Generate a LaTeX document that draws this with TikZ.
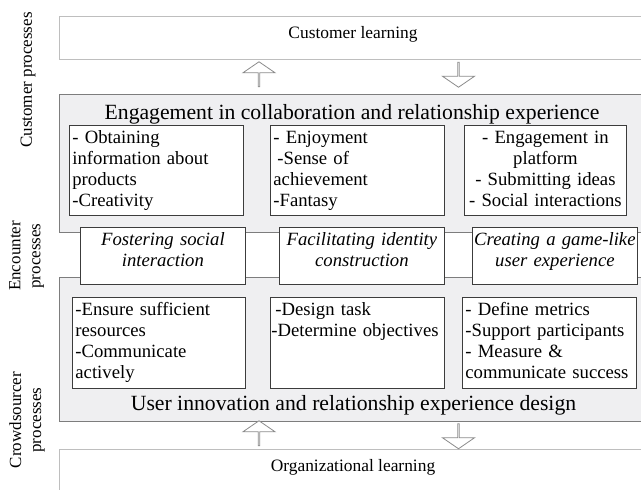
\documentclass[tikz,border=0pt]{standalone}
\usepackage{fontspec}
\setmainfont{Liberation Serif}
\usetikzlibrary{shapes.arrows}
\definecolor{frameGrey}{RGB}{60,60,60}
\definecolor{bandGrey}{RGB}{125,125,125}
\definecolor{bandFill}{RGB}{239,239,241}
\definecolor{learnGrey}{RGB}{190,190,190}
\definecolor{arrowGrey}{RGB}{140,140,140}

\tikzset{
  learnbox/.style={draw=learnGrey,line width=0.9pt,fill=white,anchor=north west,minimum width=590pt,inner sep=0pt},
  bandbox/.style={draw=bandGrey,line width=0.9pt,fill=bandFill,anchor=north west,minimum width=590pt,inner sep=0pt},
  itembox/.style={draw=frameGrey,line width=0.8pt,fill=white,anchor=north west,inner xsep=3pt,inner ysep=3pt,text height=15pt,align=left,font=\fontsize{18.7}{21}\selectfont},
  rolebox/.style={itembox,align=center,inner xsep=0.5pt,text width=164pt,text depth=36pt,font=\itshape\fontsize{18.7}{21}\selectfont},
  flowarrow/.style={single arrow,draw=arrowGrey,fill=white,line width=0.8pt,minimum height=25pt,minimum width=32pt,inner xsep=0pt,inner ysep=7.5pt,single arrow head extend=8.5pt,single arrow tip angle=111},
  sidelabel/.style={rotate=90,align=center,font=\fontsize{17}{20}\selectfont},
  learntext/.style={anchor=base,font=\fontsize{17.4}{19}\selectfont},
  bandtitle/.style={anchor=base,font=\fontsize{21.7}{24}\selectfont}
}

\begin{document}
\begin{tikzpicture}[x=1pt,y=-1pt]
\clip (0,0) rectangle (641,490);
\fill[white] (0,0) rectangle (641,490);

% process levels on the left
\node[sidelabel] (custproc) at (28,80) {Customer processes};
\node[sidelabel] (encproc) at (26.5,256) {Encounter\\processes};
\node[sidelabel] (crowdproc) at (27,420) {Crowdsourcer\\processes};

% learning layers
\node[learnbox,minimum height=43pt] (custlearn) at (59,16) {};
\node[learntext] (custlearntxt) at (353,38.5) {Customer learning};
\node[learnbox,minimum height=50pt] (orglearn) at (59,449) {};
\node[learntext] (orglearntxt) at (353,471) {Organizational learning};

% grey bands
\node[bandbox,minimum height=138pt] (engage) at (59,94) {};
\node[bandbox,minimum height=144pt] (design) at (59,277) {};
\node[bandtitle] (engagetitle) at (352,119) {Engagement in collaboration and relationship experience};
\node[bandtitle] (designtitle) at (353.5,410) {User innovation and relationship experience design};

% customer side
\node[itembox,text width=168pt,text depth=69pt] (cust1) at (69,125) {- Obtaining\\information about\\products\\-Creativity};
\node[itembox,text width=168pt,text depth=69pt] (cust2) at (270,125) {- Enjoyment\\\hspace*{4pt}-Sense of\\achievement\\-Fantasy};
\node[itembox,align=center,text width=156pt,text depth=69pt] (cust3) at (464,125) {- Engagement in\\platform\\- Submitting ideas\\- Social interactions};

% encounter
\node[rolebox] (enc1) at (80,227) {Fostering social\\interaction};
\node[rolebox] (enc2) at (279,227) {Facilitating identity\\construction};
\node[rolebox] (enc3) at (472,227) {Creating a game-like\\user experience};

% crowdsourcer side
\node[itembox,text width=167pt,text depth=70pt] (crowd1) at (72,297) {-Ensure sufficient\\resources\\-Communicate\\actively};
\node[itembox,inner xsep=1pt,text width=172pt,text depth=70pt] (crowd2) at (270,297) {\hspace*{4pt}-Design task\\-Determine objectives};
\node[itembox,text width=168pt,text depth=70pt] (crowd3) at (462,297) {- Define metrics\\-Support participants\\- Measure \&\\communicate success};

% learning flows
\node[flowarrow,shape border rotate=90] (custup) at (259,74.5) {};
\node[flowarrow,shape border rotate=270] (custdown) at (458.5,74.5) {};
\node[flowarrow,shape border rotate=90] (orgup) at (259,433.5) {};
\node[flowarrow,shape border rotate=270] (orgdown) at (458.5,436) {};
\end{tikzpicture}
\end{document}
